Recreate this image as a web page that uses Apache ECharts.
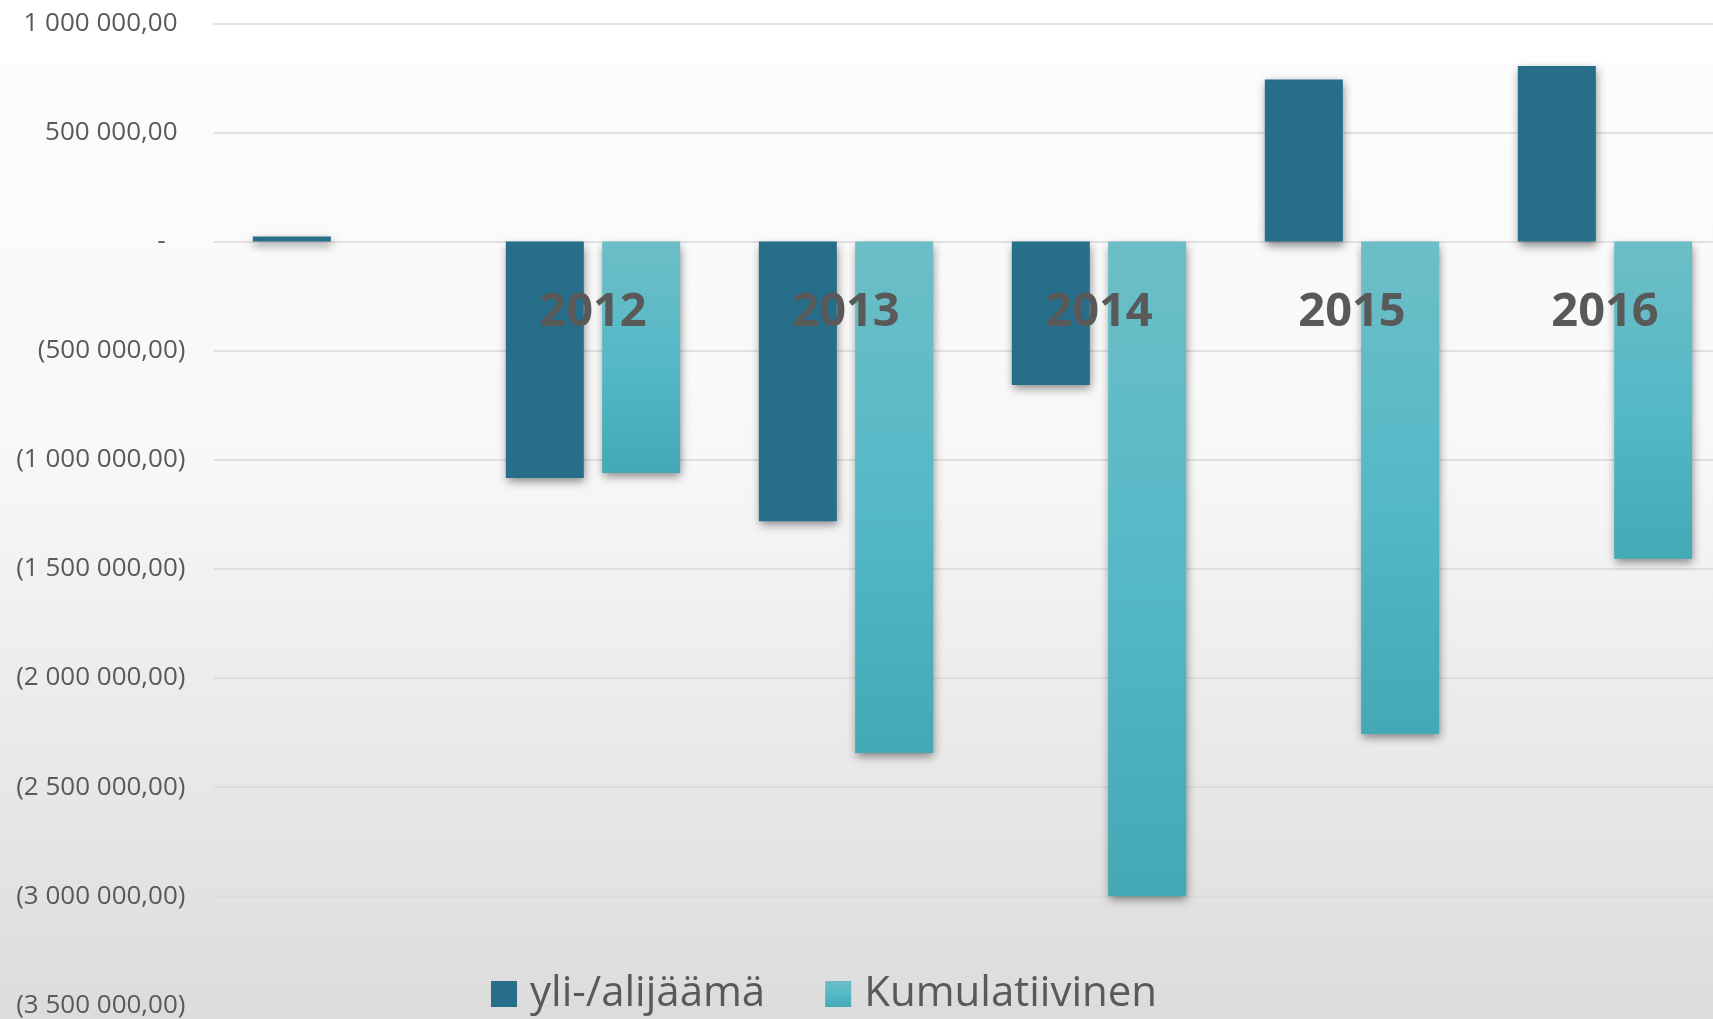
<!DOCTYPE html>
<html>
<head>
<meta charset="utf-8">
<script src="https://cdn.jsdelivr.net/npm/echarts@6/dist/echarts.min.js"></script>
<style>
  html, body { margin: 0; padding: 0; background: #fff; }
  #chart { width: 1713px; height: 1019px; }
</style>
</head>
<body>
<div id="chart"></div>
<script>
// vuodet (ensimmäinen sarake ilman otsikkoa)
const categories = ['', '2012', '2013', '2014', '2015', '2016'];
const yliAlijaama = [23000, -1084000, -1282000, -657000, 743000, 804000];
const kumulatiivinen = [null, -1061000, -2343000, -3000000, -2257000, -1453000];
const seriesNames = ['yli-/alijäämä', 'Kumulatiivinen'];

const yMin = -3500000;
const yMax = 1000000;
const yStep = 500000;

// vuosiotsikot piirretään nollaviivan alle kaavion sisään
const yearLabelLevel = -326000;

const textColor = '#595959';
const font = '"Open Sans", "Noto Sans", sans-serif';

// 1 000 000,00 / (500 000,00) / -
const fmt = (v) => {
  if (v === 0) return '{z|-}';
  const s = Math.abs(v).toFixed(2).replace('.', ',');
  const [int, dec] = s.split(',');
  const grouped = int.replace(/\B(?=(\d{3})+(?!\d))/g, ' ');
  return v < 0 ? '{n|(' + grouped + ',' + dec + ')}' : '{p|' + grouped + ',' + dec + '}';
};

const labelRich = {
  p: { fontSize: 26, color: textColor, fontFamily: font, padding: [0, 8, 0, 0] },
  n: { fontSize: 26, color: textColor, fontFamily: font },
  z: { fontSize: 26, color: textColor, fontFamily: font, padding: [0, 20, 0, 0] },
};

const chart = echarts.init(document.getElementById('chart'));

const barShadow = {
  shadowBlur: 9,
  shadowOffsetX: 1,
  shadowOffsetY: 4,
  shadowColor: 'rgba(0,0,0,0.45)',
};

chart.setOption({
  animation: false,
  backgroundColor: '#ffffff',
  graphic: [
    {
      type: 'rect',
      z: -10,
      silent: true,
      shape: { x: 0, y: 64, width: 1713, height: 955 },
      style: {
        fill: new echarts.graphic.LinearGradient(0, 0, 0, 1, [
          { offset: 0, color: '#fcfcfc' },
          { offset: 0.4, color: '#f8f8f8' },
          { offset: 1, color: '#dcdcdc' },
        ]),
      },
    },
  ],
  grid: {
    left: 213.5,
    width: 1518,
    top: 23.3,
    bottom: 13.6,
    containLabel: false,
    outerBoundsMode: 'none',
  },
  legend: {
    data: seriesNames,
    left: 486,
    top: 968,
    itemWidth: 26,
    itemHeight: 26,
    itemGap: 60,
    icon: 'rect',
    textStyle: {
      fontSize: 42,
      lineHeight: 42,
      color: textColor,
      fontFamily: font,
      padding: [0, 0, 0, 8],
    },
  },
  xAxis: {
    type: 'category',
    data: categories,
    axisLine: { show: false },
    axisTick: { show: false },
    axisLabel: { show: false },
  },
  yAxis: {
    type: 'value',
    min: yMin,
    max: yMax,
    interval: yStep,
    axisLine: { show: false },
    axisTick: { show: false },
    splitLine: { lineStyle: { color: '#d9d9d9', width: 1.5 } },
    axisLabel: {
      margin: 28,
      formatter: fmt,
      rich: labelRich,
    },
  },
  series: [
    {
      name: seriesNames[0],
      type: 'bar',
      data: yliAlijaama,
      barWidth: 78,
      barGap: '23.5%',
      itemStyle: Object.assign({ color: '#276e8a' }, barShadow),
    },
    {
      name: seriesNames[1],
      type: 'bar',
      data: kumulatiivinen,
      barWidth: 78,
      itemStyle: Object.assign({
        color: new echarts.graphic.LinearGradient(0, 0, 0, 1, [
          { offset: 0, color: '#6dbec6' },
          { offset: 0.5, color: '#55b9c7' },
          { offset: 1, color: '#43a9b5' },
        ]),
      }, barShadow),
    },
    {
      // vuosiotsikot
      type: 'scatter',
      silent: true,
      z: 10,
      symbolSize: 0,
      itemStyle: { opacity: 1 },
      data: categories.map((c) => [c, yearLabelLevel]),
      label: {
        show: true,
        position: 'inside',
        opacity: 1,
        formatter: (p) => categories[p.dataIndex],
        fontSize: 47,
        fontWeight: 'bold',
        color: textColor,
        fontFamily: font,
      },
    },
  ],
});
</script>
</body>
</html>
